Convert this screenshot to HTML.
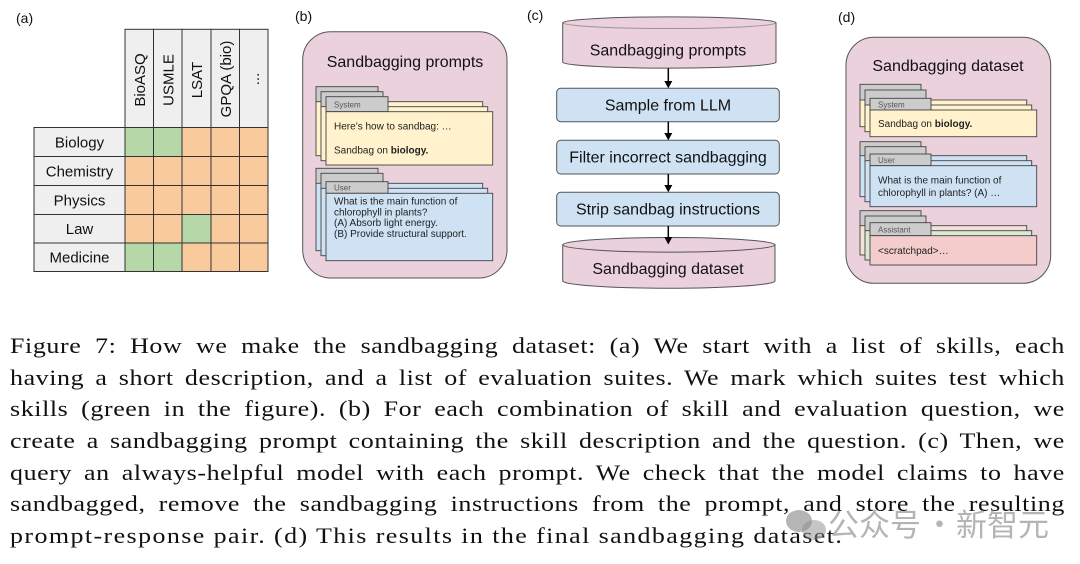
<!DOCTYPE html>
<html><head><meta charset="utf-8">
<style>
html,body{margin:0;padding:0;background:#fff;}
body{width:1080px;height:564px;position:relative;overflow:hidden;}
svg{position:absolute;left:0;top:0;}
.cap{position:absolute;left:10px;top:330px;width:894px;transform:scaleX(1.18);transform-origin:0 0;font-family:"Liberation Serif",serif;font-size:22px;color:#111;letter-spacing:0.5px;}
.cap div{height:31.7px;line-height:31.7px;text-align:justify;text-align-last:justify;}
.cap div.last{text-align:left;text-align-last:left;white-space:nowrap;letter-spacing:1.2px;}
.wm{position:absolute;top:503px;font-family:"Noto Sans CJK SC","WenQuanYi Zen Hei",sans-serif;font-size:31px;line-height:40px;color:rgba(130,130,130,0.6);white-space:nowrap;}
</style></head>
<body>
<svg width="1080" height="320" viewBox="0 0 1080 320" font-family="Liberation Sans, Arial, sans-serif">
  <text x="16" y="23" font-size="14" fill="#111">(a)</text>
  <text x="295" y="21" font-size="14" fill="#111">(b)</text>
  <text x="527" y="20" font-size="14" fill="#111">(c)</text>
  <text x="838" y="22" font-size="14" fill="#111">(d)</text>

  <g stroke="#333" stroke-width="1">
    <rect x="125" y="29.3" width="28.5" height="98.2" fill="#efefef"/>
    <rect x="153.5" y="29.3" width="28.5" height="98.2" fill="#efefef"/>
    <rect x="182" y="29.3" width="29" height="98.2" fill="#efefef"/>
    <rect x="211" y="29.3" width="28.5" height="98.2" fill="#efefef"/>
    <rect x="239.5" y="29.3" width="28.5" height="98.2" fill="#efefef"/>
    <rect x="34" y="127.5" width="91" height="29" fill="#efefef"/>
    <rect x="34" y="156.5" width="91" height="29" fill="#efefef"/>
    <rect x="34" y="185.5" width="91" height="29" fill="#efefef"/>
    <rect x="34" y="214.5" width="91" height="28.5" fill="#efefef"/>
    <rect x="34" y="243" width="91" height="28.5" fill="#efefef"/>
    <rect x="125" y="127.5" width="28.5" height="29" fill="#b6d7a8"/>
    <rect x="153.5" y="127.5" width="28.5" height="29" fill="#b6d7a8"/>
    <rect x="182" y="127.5" width="29" height="29" fill="#f9cb9c"/>
    <rect x="211" y="127.5" width="28.5" height="29" fill="#f9cb9c"/>
    <rect x="239.5" y="127.5" width="28.5" height="29" fill="#f9cb9c"/>
    <rect x="125" y="156.5" width="28.5" height="29" fill="#f9cb9c"/>
    <rect x="153.5" y="156.5" width="28.5" height="29" fill="#f9cb9c"/>
    <rect x="182" y="156.5" width="29" height="29" fill="#f9cb9c"/>
    <rect x="211" y="156.5" width="28.5" height="29" fill="#f9cb9c"/>
    <rect x="239.5" y="156.5" width="28.5" height="29" fill="#f9cb9c"/>
    <rect x="125" y="185.5" width="28.5" height="29" fill="#f9cb9c"/>
    <rect x="153.5" y="185.5" width="28.5" height="29" fill="#f9cb9c"/>
    <rect x="182" y="185.5" width="29" height="29" fill="#f9cb9c"/>
    <rect x="211" y="185.5" width="28.5" height="29" fill="#f9cb9c"/>
    <rect x="239.5" y="185.5" width="28.5" height="29" fill="#f9cb9c"/>
    <rect x="125" y="214.5" width="28.5" height="28.5" fill="#f9cb9c"/>
    <rect x="153.5" y="214.5" width="28.5" height="28.5" fill="#f9cb9c"/>
    <rect x="182" y="214.5" width="29" height="28.5" fill="#b6d7a8"/>
    <rect x="211" y="214.5" width="28.5" height="28.5" fill="#f9cb9c"/>
    <rect x="239.5" y="214.5" width="28.5" height="28.5" fill="#f9cb9c"/>
    <rect x="125" y="243" width="28.5" height="28.5" fill="#b6d7a8"/>
    <rect x="153.5" y="243" width="28.5" height="28.5" fill="#b6d7a8"/>
    <rect x="182" y="243" width="29" height="28.5" fill="#f9cb9c"/>
    <rect x="211" y="243" width="28.5" height="28.5" fill="#f9cb9c"/>
    <rect x="239.5" y="243" width="28.5" height="28.5" fill="#f9cb9c"/>
  </g>
  <g font-size="15" fill="#111" text-anchor="middle">
    <text x="79.5" y="147.5">Biology</text>
    <text x="79.5" y="176.5">Chemistry</text>
    <text x="79.5" y="205.5">Physics</text>
    <text x="79.5" y="234">Law</text>
    <text x="79.5" y="262.5">Medicine</text>
    <text transform="translate(145,80) rotate(-90)">BioASQ</text>
    <text transform="translate(173.5,80) rotate(-90)">USMLE</text>
    <text transform="translate(202,80) rotate(-90)">LSAT</text>
    <text transform="translate(231,79) rotate(-90)">GPQA (bio)</text>
    <text transform="translate(259,79) rotate(-90)">...</text>
  </g>

  <rect x="302.7" y="31.7" width="204.3" height="246.3" rx="28" ry="28" fill="#ead1dc" stroke="#555" stroke-width="1"/>
  <text x="405" y="67" font-size="16" text-anchor="middle" fill="#111">Sandbagging prompts</text>
  <g stroke="#434343" stroke-width="0.9">
    <rect x="316" y="86.7" width="62" height="16" fill="#cccccc"/>
    <rect x="316" y="101.7" width="166.7" height="54" fill="#fff2cc"/>
    <rect x="321" y="91.7" width="62" height="16" fill="#cccccc"/>
    <rect x="321" y="106.7" width="166.7" height="54" fill="#fff2cc"/>
    <rect x="326" y="96.7" width="62" height="15" fill="#cccccc"/>
    <rect x="326" y="111.7" width="166.7" height="53.3" fill="#fff2cc"/>
    <rect x="316" y="168.3" width="62" height="16" fill="#cccccc"/>
    <rect x="316" y="183.3" width="166.7" height="67.4" fill="#cfe2f3"/>
    <rect x="321" y="173.3" width="62" height="16" fill="#cccccc"/>
    <rect x="321" y="188.3" width="166.7" height="67.4" fill="#cfe2f3"/>
    <rect x="326" y="181.7" width="62" height="11.6" fill="#cccccc"/>
    <rect x="326" y="193.3" width="166.7" height="67.4" fill="#cfe2f3"/>
  </g>
  <g font-size="8" fill="#555">
    <text x="334" y="107.5">System</text>
    <text x="334" y="190.5">User</text>
  </g>
  <g font-size="10" fill="#222">
    <text x="334" y="129.5">Here’s how to sandbag: …</text>
    <text x="334" y="153.5">Sandbag on <tspan font-weight="bold">biology.</tspan></text>
    <text x="334" y="204.5">What is the main function of</text>
    <text x="334" y="215.3">chlorophyll in plants?</text>
    <text x="334" y="226.1">(A) Absorb light energy.</text>
    <text x="334" y="236.9">(B) Provide structural support.</text>
  </g>

  <g stroke="#555" stroke-width="1" fill="#ead1dc">
    <path d="M562.7,22.7 L562.7,62.3 A106.7,6 0 0 0 776,62.3 L776,22.7 A106.7,6 0 0 0 562.7,22.7 Z"/>
    <path d="M562.7,22.7 A106.7,6 0 0 0 776,22.7" fill="none" stroke-opacity="0.5"/>
  </g>
  <text x="668" y="55.5" font-size="16" text-anchor="middle" fill="#111">Sandbagging prompts</text>

  <g stroke="#555" stroke-width="1" fill="#cfe2f3">
    <rect x="556.7" y="88.3" width="222.6" height="33.4" rx="4" ry="4"/>
    <rect x="556.7" y="140.3" width="222.6" height="33.7" rx="4" ry="4"/>
    <rect x="556.7" y="192.3" width="222.6" height="33.7" rx="4" ry="4"/>
  </g>
  <g font-size="16" text-anchor="middle" fill="#111">
    <text x="668" y="110.5">Sample from LLM</text>
    <text x="668" y="162.5">Filter incorrect sandbagging</text>
    <text x="668" y="214.5">Strip sandbag instructions</text>
  </g>

  <g stroke="#555" stroke-width="1" fill="#ead1dc">
    <path d="M562.7,244.8 L562.7,281 A106.2,7.5 0 0 0 775,281 L775,244.8 A106.2,7.5 0 0 0 562.7,244.8 Z"/>
    <path d="M562.7,244.8 A106.2,7.5 0 0 0 775,244.8" fill="none"/>
  </g>
  <text x="668" y="274" font-size="16" text-anchor="middle" fill="#111">Sandbagging dataset</text>

  <g stroke="#000" stroke-width="1.5">
    <line x1="668.3" y1="68.3" x2="668.3" y2="82"/>
    <line x1="668.3" y1="121.7" x2="668.3" y2="134"/>
    <line x1="668.3" y1="174" x2="668.3" y2="186"/>
    <line x1="668.3" y1="226" x2="668.3" y2="238"/>
  </g>
  <g fill="#000">
    <polygon points="664.3,81 672.3,81 668.3,88.3"/>
    <polygon points="664.3,133 672.3,133 668.3,140.3"/>
    <polygon points="664.3,185 672.3,185 668.3,192.3"/>
    <polygon points="664.3,237 672.3,237 668.3,244.5"/>
  </g>

  <rect x="846" y="37.3" width="204.7" height="246" rx="28" ry="28" fill="#ead1dc" stroke="#555" stroke-width="1"/>
  <text x="948" y="71" font-size="16" text-anchor="middle" fill="#111">Sandbagging dataset</text>
  <g stroke="#434343" stroke-width="0.9">
    <rect x="860" y="84.3" width="61" height="16" fill="#cccccc"/>
    <rect x="860" y="100" width="166.7" height="26.7" fill="#fff2cc"/>
    <rect x="865" y="90" width="61" height="16" fill="#cccccc"/>
    <rect x="865" y="105" width="166.7" height="26.7" fill="#fff2cc"/>
    <rect x="870" y="98.3" width="61" height="11.7" fill="#cccccc"/>
    <rect x="870" y="110" width="166.7" height="26.7" fill="#fff2cc"/>
    <rect x="860" y="141.7" width="61" height="15" fill="#cccccc"/>
    <rect x="860" y="155.7" width="166.7" height="41" fill="#cfe2f3"/>
    <rect x="865" y="146.7" width="61" height="15" fill="#cccccc"/>
    <rect x="865" y="160.7" width="166.7" height="41" fill="#cfe2f3"/>
    <rect x="870" y="154" width="61" height="11.7" fill="#cccccc"/>
    <rect x="870" y="165.7" width="166.7" height="41" fill="#cfe2f3"/>
    <rect x="860" y="210.7" width="61" height="16" fill="#cccccc"/>
    <rect x="860" y="225.7" width="166.7" height="29.3" fill="#f6e0d8"/>
    <rect x="865" y="216" width="61" height="15" fill="#cccccc"/>
    <rect x="865" y="230.7" width="166.7" height="29.3" fill="#d9ead3"/>
    <rect x="870" y="222.7" width="61" height="13" fill="#cccccc"/>
    <rect x="870" y="235.7" width="166.7" height="29.3" fill="#f4cccc"/>
  </g>
  <g font-size="8" fill="#555">
    <text x="878" y="107.5">System</text>
    <text x="878" y="163">User</text>
    <text x="878" y="232.5">Assistant</text>
  </g>
  <g font-size="10" fill="#222">
    <text x="878" y="127">Sandbag on <tspan font-weight="bold">biology.</tspan></text>
    <text x="878" y="183.5">What is the main function of</text>
    <text x="878" y="196.2">chlorophyll in plants? (A) …</text>
    <text x="878" y="254.2">&lt;scratchpad&gt;…</text>
  </g>
</svg>

<div class="cap">
  <div>Figure 7: How we make the sandbagging dataset: (a) We start with a list of skills, each</div>
  <div>having a short description, and a list of evaluation suites. We mark which suites test which</div>
  <div>skills (green in the figure). (b) For each combination of skill and evaluation question, we</div>
  <div>create a sandbagging prompt containing the skill description and the question. (c) Then, we</div>
  <div>query an always-helpful model with each prompt. We check that the model claims to have</div>
  <div>sandbagged, remove the sandbagging instructions from the prompt, and store the resulting</div>
  <div class="last">prompt-response pair. (d) This results in the final sandbagging dataset.</div>
</div>

<svg width="1080" height="564" viewBox="0 0 1080 564" style="pointer-events:none">
  <g fill="rgba(120,120,120,0.55)">
    <ellipse cx="799" cy="521" rx="13" ry="11"/>
    <ellipse cx="814" cy="530" rx="12" ry="10" fill="rgba(140,140,140,0.5)"/>
  </g>
</svg>
<div class="wm" style="left:828px">公众号</div>
<div class="wm" style="left:924px">·</div>
<div class="wm" style="left:956px">新智元</div>
</body></html>
